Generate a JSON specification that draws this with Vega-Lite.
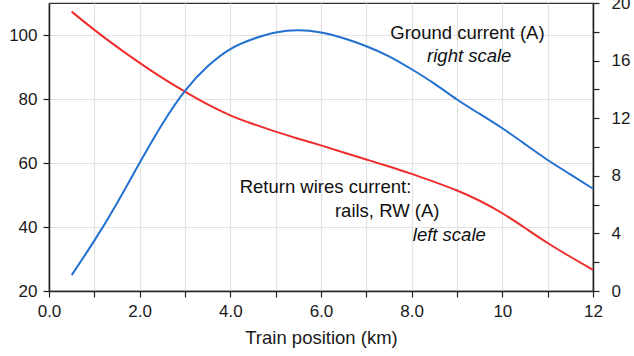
{
  "$schema": "https://vega.github.io/schema/vega-lite/v6.json",
  "width": 544,
  "height": 288,
  "autosize": {"type": "none"},
  "padding": {"left": 49, "top": 3, "right": 41, "bottom": 65},
  "background": "white",
  "view": {"stroke": "#333", "strokeWidth": 1.2},
  "config": {
    "font": "Liberation Sans",
    "axis": {
      "labelFont": "Liberation Sans",
      "labelFontSize": 17,
      "labelColor": "#1a1a1a",
      "labelFlush": false,
      "labelOverlap": false,
      "titleFont": "Liberation Sans",
      "titleFontSize": 18.5,
      "titleFontWeight": "normal",
      "titleColor": "#1a1a1a",
      "domainColor": "#222",
      "domainWidth": 1.5,
      "tickColor": "#222",
      "tickWidth": 1.2,
      "tickSize": 6,
      "gridColor": "#e2e2e2",
      "gridWidth": 1.2
    }
  },
  "data": {
    "values": [
      {"x": 0.5, "rw": 107.3, "gc": 1.1},
      {"x": 1.0, "rw": 101.6, "gc": 3.5},
      {"x": 1.5, "rw": 96.3, "gc": 6.1},
      {"x": 2.0, "rw": 91.3, "gc": 8.9},
      {"x": 2.5, "rw": 86.6, "gc": 11.6},
      {"x": 3.0, "rw": 82.3, "gc": 13.9},
      {"x": 3.5, "rw": 78.3, "gc": 15.6},
      {"x": 4.0, "rw": 74.9, "gc": 16.8},
      {"x": 4.5, "rw": 72.2, "gc": 17.5},
      {"x": 5.0, "rw": 69.8, "gc": 17.95},
      {"x": 5.5, "rw": 67.6, "gc": 18.1},
      {"x": 6.0, "rw": 65.5, "gc": 17.95},
      {"x": 6.5, "rw": 63.3, "gc": 17.55},
      {"x": 7.0, "rw": 61.1, "gc": 17.0},
      {"x": 7.5, "rw": 58.9, "gc": 16.3},
      {"x": 8.0, "rw": 56.6, "gc": 15.4},
      {"x": 8.5, "rw": 54.1, "gc": 14.4},
      {"x": 9.0, "rw": 51.4, "gc": 13.3},
      {"x": 9.5, "rw": 48.2, "gc": 12.3},
      {"x": 10.0, "rw": 44.3, "gc": 11.3},
      {"x": 10.5, "rw": 39.7, "gc": 10.2},
      {"x": 11.0, "rw": 35.0, "gc": 9.1},
      {"x": 11.5, "rw": 30.7, "gc": 8.1},
      {"x": 12.0, "rw": 26.6, "gc": 7.1}
    ]
  },
  "layer": [
    {
      "layer": [
        {
          "mark": {"type": "line", "color": "#ee2e2e", "strokeWidth": 2, "interpolate": "natural"},
          "encoding": {
            "x": {
              "field": "x", "type": "quantitative",
              "scale": {"domain": [0, 12], "nice": false},
              "axis": {
                "values": [0,1,2,3,4,5,6,7,8,9,10,11,12],
                "labelExpr": "datum.value % 2 == 0 ? (datum.value < 10 ? format(datum.value, '.1f') : format(datum.value, 'd')) : ''",
                "grid": true,
                "labelPadding": 6,
                "title": "Train position (km)",
                "titlePadding": 9
              }
            },
            "y": {
              "field": "rw", "type": "quantitative",
              "scale": {"domain": [20, 110], "nice": false, "zero": false},
              "axis": {
                "orient": "left",
                "values": [20,30,40,50,60,70,80,90,100],
                "labelExpr": "datum.value % 20 == 0 ? datum.value : ''",
                "grid": true,
                "title": null,
                "labelPadding": 6
              }
            }
          }
        },
        {
          "data": {"values": [{}]},
          "mark": {"type": "text", "font": "Liberation Sans", "fontSize": 18.5, "color": "#111", "align": "center", "baseline": "middle"},
          "encoding": {
            "x": {"datum": 9.23, "type": "quantitative"},
            "y": {"datum": 100.6, "type": "quantitative"},
            "text": {"value": "Ground current (A)"}
          }
        },
        {
          "data": {"values": [{}]},
          "mark": {"type": "text", "font": "Liberation Sans", "fontSize": 18.5, "fontStyle": "italic", "color": "#111", "align": "center", "baseline": "middle"},
          "encoding": {
            "x": {"datum": 9.27, "type": "quantitative"},
            "y": {"datum": 93.4, "type": "quantitative"},
            "text": {"value": "right scale"}
          }
        },
        {
          "data": {"values": [{}]},
          "mark": {"type": "text", "font": "Liberation Sans", "fontSize": 18.5, "color": "#111", "align": "center", "baseline": "middle"},
          "encoding": {
            "x": {"datum": 6.1, "type": "quantitative"},
            "y": {"datum": 52.5, "type": "quantitative"},
            "text": {"value": "Return wires current:"}
          }
        },
        {
          "data": {"values": [{}]},
          "mark": {"type": "text", "font": "Liberation Sans", "fontSize": 18.5, "color": "#111", "align": "center", "baseline": "middle"},
          "encoding": {
            "x": {"datum": 7.46, "type": "quantitative"},
            "y": {"datum": 45.0, "type": "quantitative"},
            "text": {"value": "rails, RW  (A)"}
          }
        },
        {
          "data": {"values": [{}]},
          "mark": {"type": "text", "font": "Liberation Sans", "fontSize": 18.5, "fontStyle": "italic", "color": "#111", "align": "center", "baseline": "middle"},
          "encoding": {
            "x": {"datum": 8.83, "type": "quantitative"},
            "y": {"datum": 37.5, "type": "quantitative"},
            "text": {"value": "left scale"}
          }
        }
      ]
    },
    {
      "mark": {"type": "line", "color": "#2270d0", "strokeWidth": 2, "interpolate": "natural"},
      "encoding": {
        "x": {"field": "x", "type": "quantitative"},
        "y": {
          "field": "gc", "type": "quantitative",
          "scale": {"domain": [0, 20], "nice": false},
          "axis": {
            "orient": "right",
            "values": [0,2,4,6,8,10,12,14,16,18,20],
            "labelExpr": "datum.value % 4 == 0 ? datum.value : ''",
            "grid": false,
            "title": null,
            "labelPadding": 12
          }
        }
      }
    }
  ],
  "resolve": {"scale": {"y": "independent"}}
}
